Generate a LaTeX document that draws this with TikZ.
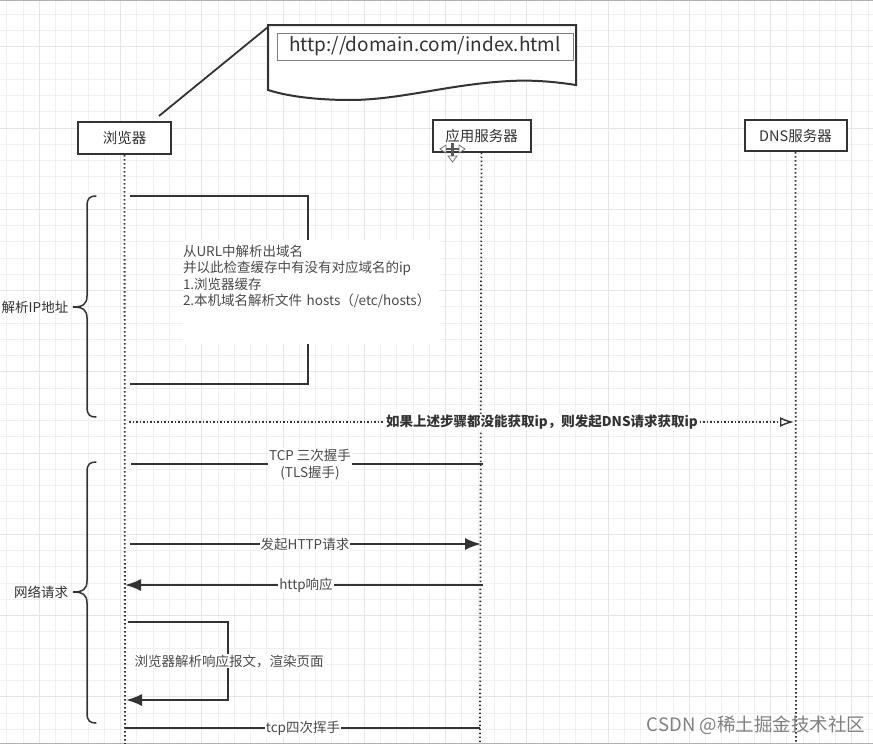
\documentclass[tikz,border=0pt]{standalone}
\usepackage{fontspec}
\setmainfont{Noto Sans CJK SC}
\usetikzlibrary{arrows.meta,positioning,calc}
\definecolor{inkc}{HTML}{333333}
\definecolor{textc}{HTML}{4A4A4A}
\begin{document}
\begin{tikzpicture}[x=1pt,y=-1pt,
  every node/.style={font=\fontsize{13.5}{16.5}\selectfont,text=textc},
  actor/.style={draw=inkc,line width=2pt,fill=white,align=center,text=inkc,font=\fontsize{14.5}{16}\selectfont,inner sep=0pt},
  life/.style={draw=inkc,line width=1.8pt,dash pattern=on 1.6pt off 2.4pt},
  ln/.style={draw=inkc,line width=1.8pt},
  ar/.style={ln,-{Latex[length=16pt,width=12pt]}},
  dotar/.style={draw=inkc,line width=1.6pt,dash pattern=on 1.5pt off 2pt,-{Latex[open,length=14pt,width=10pt,line width=1.4pt]}},
  lab/.style={fill=white,align=center,inner sep=1pt},
  brc/.style={draw=inkc,line width=1.5pt,line cap=round}]
\useasboundingbox (0,0) rectangle (873,744);
\fill[white] (0,0) rectangle (873,744);
% grid
\foreach \gx in {6.75,23,...,872} \draw[black!6,line width=0.7pt] (\gx,0) -- (\gx,744);
\foreach \gy in {14.25,30.5,...,740} \draw[black!6,line width=0.7pt] (0,\gy) -- (873,\gy);
\foreach \gx in {39.25,120.5,...,872} \draw[black!10,line width=0.8pt] (\gx,0) -- (\gx,744);
\foreach \gy in {46.75,128,...,740} \draw[black!10,line width=0.8pt] (0,\gy) -- (873,\gy);
\draw[black!30,line width=1.5pt] (0,0.5) -- (873,0.5);
\draw[black!30,line width=1.5pt] (0,743.5) -- (873,743.5);
% header
\node[actor,minimum width=93pt,minimum height=32pt] (browser) at (124.5,138) {浏览器};
\node[actor,minimum width=98pt,minimum height=32pt] (app) at (481.5,135.5) {应用服务器};
\node[actor,minimum width=102pt,minimum height=31pt] (dns) at (795.5,135.5) {DNS服务器};
\coordinate (browserend) at (125,744);
\coordinate (append) at (480,744);
\coordinate (dnsend) at (796,744);
\draw[life] (browser) -- (browserend);
\draw[life] (app) -- (append);
\draw[life] (dns) -- (dnsend);
% address note
\draw[inkc,line width=2pt,fill=white] (268,25) -- (576,25) -- (576,85)
  .. controls (550,81) and (530,80) .. (510,81) .. controls (450,84) and (400,100) .. (350,100)
  .. controls (320,100) and (290,97) .. (268,90) -- cycle;
\node[draw=black!50,line width=1pt,minimum width=296pt,minimum height=27pt,inner sep=0pt,text=inkc,font=\fontsize{19}{20}\selectfont] (url) at (425,46.5) {http://domain.com/index.html};
\coordinate (notecorner) at (268,27);
\coordinate (browsertop) at (159,116);
\draw[ln] (browsertop) -- (notecorner);
% self check
\coordinate (c1a) at (130,196);
\coordinate (c1b) at (308,196);
\coordinate (c1c) at (308,384);
\coordinate (c1d) at (130,384);
\draw[ln] (c1a) -- (c1b) -- (c1c) -- (c1d);
\node[fill=white,align=left,inner sep=0pt,minimum height=104pt,text width=256pt] (parse) at (311,292) {从URL中解析出域名\\并以此检查缓存中有没有对应域名的ip\\1.浏览器缓存\\2.本机域名解析文件 hosts（/etc/hosts）\\~\\~};
% braces
\draw[brc] (96,196) .. controls (90,196) and (87,198) .. (87,206) -- (87,296)
  .. controls (87,304) and (83,307) .. (73,307) .. controls (83,307) and (87,310) .. (87,318)
  -- (87,407) .. controls (87,415) and (90,417) .. (96,417);
\draw[brc] (96,462) .. controls (90,462) and (87,464) .. (87,472) -- (87,581)
  .. controls (87,589) and (83,592) .. (73,592) .. controls (83,592) and (87,595) .. (87,603)
  -- (87,713) .. controls (87,721) and (90,723) .. (96,723);
\node[text=inkc] (ipaddr) at (35,307) {解析IP地址};
\node[text=inkc] (netreq) at (41,592) {网络请求};
% dns request
\coordinate (d1) at (129,422);
\coordinate (d2) at (794,422);
\draw[dotar] (d1) -- (d2);
\node[lab,text=inkc,font=\fontsize{13.5}{16}\bfseries] (dnsreq) at (542,422) {如果上述步骤都没能获取ip，则发起DNS请求获取ip};
% network
\coordinate (t1) at (131,464);
\coordinate (t2) at (483,464);
\draw[ln] (t1) -- (t2);
\node[lab] (tcp) at (310,464.5) {TCP 三次握手\\(TLS握手)};
\coordinate (h1) at (130,544);
\coordinate (h2) at (481,544);
\draw[ar] (h1) -- (h2);
\node[lab] (req) at (305,544) {发起HTTP请求};
\coordinate (r1) at (483,585);
\coordinate (r2) at (125,585);
\draw[ar] (r1) -- (r2);
\node[lab] (resp) at (306,585) {http响应};
\coordinate (s1) at (128,622);
\coordinate (s2) at (228,622);
\coordinate (s3) at (228,700);
\coordinate (s4) at (126,700);
\draw[ar] (s1) -- (s2) -- (s3) -- (s4);
\node[lab] (render) at (229,661) {浏览器解析响应报文，渲染页面};
\coordinate (f1) at (125,728);
\coordinate (f2) at (480,728);
\draw[ln] (f1) -- (f2);
\node[lab] (bye) at (303,728.5) {tcp四次挥手};
% pointer
\draw[black!55,line width=0.8pt,fill=white] (440,149) -- (446,145) -- (446,153) -- cycle;
\draw[black!55,line width=0.8pt,fill=white] (465,149) -- (459,145) -- (459,153) -- cycle;
\draw[black!55,line width=0.8pt,fill=white] (452.5,162) -- (448,156) -- (457,156) -- cycle;
\fill[black!65] (446,148) rectangle (459,150);
\fill[black!65] (451,143) rectangle (454,156);
% mark
\node[text=black!50,font=\fontsize{18.5}{20}\selectfont,inner sep=0pt] (mark) at (756,725) {CSDN @稀土掘金技术社区};
\end{tikzpicture}
\end{document}
